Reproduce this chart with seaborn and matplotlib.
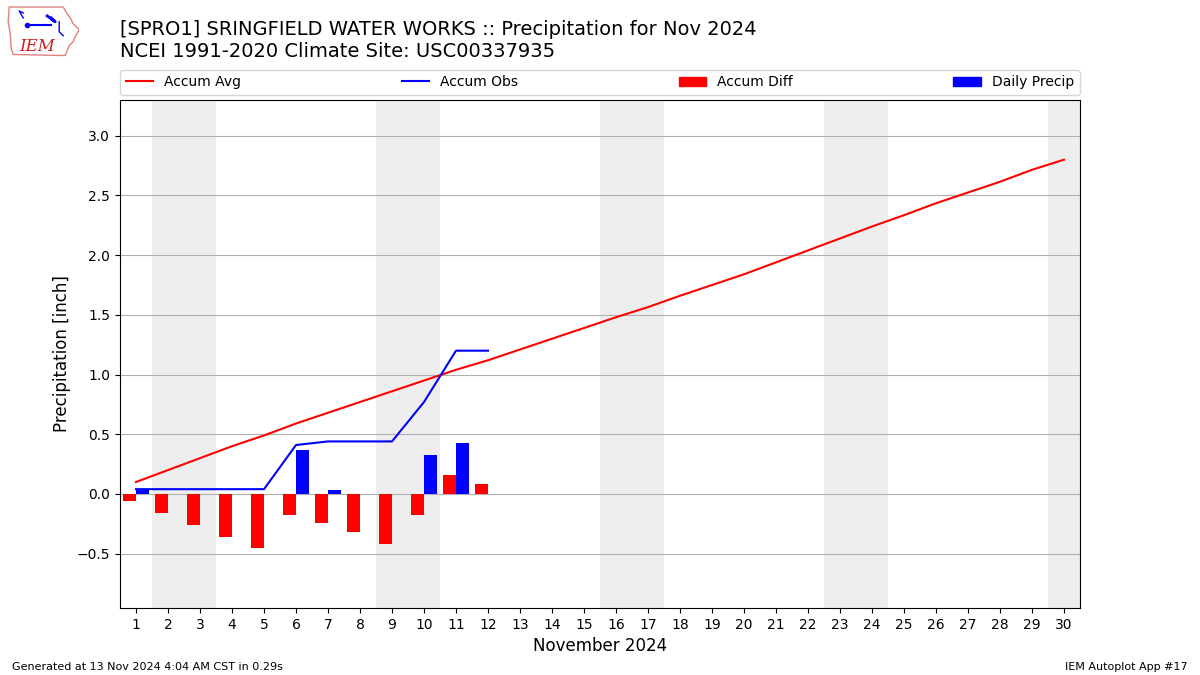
import datetime
import numpy as np
import pandas as pd
import matplotlib
matplotlib.use("Agg")
import matplotlib.pyplot as plt
from matplotlib.patches import Patch, Polygon
from matplotlib.lines import Line2D
import seaborn as sns

# ---------------- data ----------------
days_all = list(range(1, 31))
accum_avg = [0.10, 0.20, 0.30, 0.40, 0.49, 0.59, 0.68, 0.77, 0.86, 0.95,
             1.04, 1.12, 1.21, 1.30, 1.39, 1.48, 1.565, 1.66, 1.75, 1.84,
             1.94, 2.04, 2.14, 2.24, 2.335, 2.435, 2.525, 2.615, 2.715, 2.80]
days_obs = list(range(1, 13))
accum_obs = [0.04, 0.04, 0.04, 0.04, 0.04, 0.41, 0.44, 0.44, 0.44, 0.77, 1.20, 1.20]
accum_diff = [-0.06, -0.16, -0.26, -0.36, -0.45, -0.18, -0.24, -0.32, -0.42, -0.18, 0.16, 0.08]
daily_precip = [0.04, 0.0, 0.0, 0.0, 0.0, 0.37, 0.03, 0.0, 0.0, 0.33, 0.43, 0.0]

title_lines = ["[SPRO1] SRINGFIELD WATER WORKS :: Precipitation for Nov 2024",
               "NCEI 1991-2020 Climate Site: USC00337935"]
yticks = [-0.5, 0.0, 0.5, 1.0, 1.5, 2.0, 2.5, 3.0]

# ---------------- figure ----------------
plt.rcParams["font.family"] = ["DejaVu Sans"]
fig = plt.figure(figsize=(12, 6.75), dpi=100)
ax = fig.add_axes([0.1, 0.0993, 0.8, 0.7526])

# weekend shading
for d in days_all:
    if datetime.date(2024, 11, d).weekday() >= 5:
        ax.axvspan(d - 0.5, d + 0.5, color="#EEEEEE", zorder=0, lw=0)

bars = pd.DataFrame({
    "day": days_obs * 2,
    "value": accum_diff + daily_precip,
    "kind": ["Accum Diff"] * len(days_obs) + ["Daily Precip"] * len(days_obs),
})
sns.barplot(data=bars, x="day", y="value", hue="kind",
            hue_order=["Accum Diff", "Daily Precip"],
            palette={"Accum Diff": "red", "Daily Precip": "blue"},
            native_scale=True, dodge=True, width=0.8, saturation=1,
            errorbar=None, legend=False, ax=ax, zorder=2)

sns.lineplot(x=days_all, y=accum_avg, color="red", lw=1.5, ax=ax, zorder=3)
sns.lineplot(x=days_obs, y=accum_obs, color="blue", lw=1.5, ax=ax, zorder=3)

ax.set_xlim(0.5, 30.5)
ax.set_ylim(-0.955, 3.30)
ax.set_xticks(days_all)
ax.set_xticklabels([str(d) for d in days_all])
ax.set_yticks(yticks)
ax.yaxis.grid(True, color="#b0b0b0", lw=0.8, zorder=1)
ax.set_axisbelow(True)
ax.tick_params(labelsize=10)
ax.set_xlabel("November 2024", fontsize=12)
ax.set_ylabel("Precipitation [inch]", fontsize=12)

handles = [Line2D([], [], color="red", lw=1.5),
           Line2D([], [], color="blue", lw=1.5),
           Patch(color="red"), Patch(color="blue")]
labels = ["Accum Avg", "Accum Obs", "Accum Diff", "Daily Precip"]
ax.legend(handles, labels, loc="lower left", bbox_to_anchor=(0, 1.01, 1, 0.05),
          mode="expand", ncol=4, fontsize=10, borderaxespad=0)

fig.text(0.1, 0.970, "\n".join(title_lines), fontsize=14, va="top", ha="left")
fig.text(0.01, 0.008, "Generated at 13 Nov 2024 4:04 AM CST in 0.29s", fontsize=8)
fig.text(0.99, 0.008, "IEM Autoplot App #17", fontsize=8, ha="right")

# logo
lax = fig.add_axes([0.006, 0.912, 0.06, 0.082])
lax.set_xlim(0, 72)
lax.set_ylim(56, 0)
lax.axis("off")
iowa = [(2, 3), (56, 3), (60, 10), (63, 14), (66, 20), (72, 26), (68, 33),
        (66, 38), (62, 42), (60, 47), (58, 52), (52, 52), (6, 51), (4, 45), (3, 30), (1, 18)]
lax.add_patch(Polygon(iowa, closed=True, fill=False, ec="#e08080", lw=1))
lax.plot([20, 44], [21, 21], color="blue", lw=1.5)
lax.plot([16, 12, 16], [14, 7, 9], color="blue", lw=1)
lax.plot([20], [21], "o", color="blue", ms=3)
lax.plot([40, 48, 44], [12, 18, 14], color="blue", lw=2)
lax.plot([52, 52, 56], [18, 28, 32], color="blue", lw=1)
lax.text(12, 47, "IEM", color="#cc2020", fontsize=12, family="DejaVu Serif",
         style="italic")

fig.savefig("out.png", dpi=100)
